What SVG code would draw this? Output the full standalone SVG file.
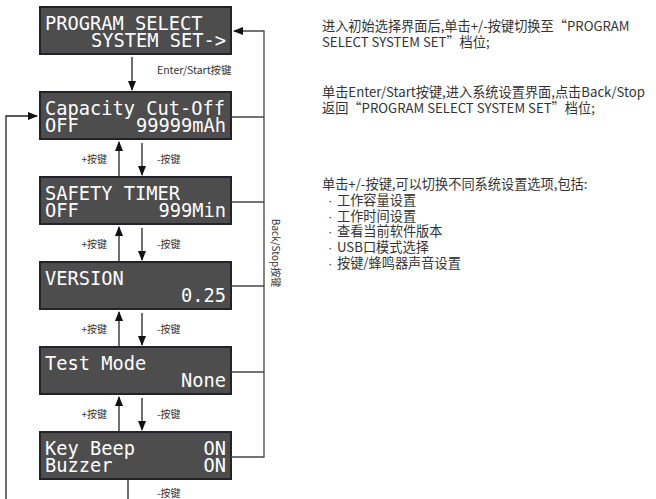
<svg xmlns="http://www.w3.org/2000/svg" width="656" height="499" viewBox="0 0 656 499">
<defs>
<style>
.box{fill:#4d4d4d;stroke:#22222a;stroke-width:2}
.lcd{fill:#ffffff;font-family:"DejaVu Sans Mono","Liberation Mono",monospace;font-size:18.7px}
.r{text-anchor:end}
.lbl{fill:#333;font-family:"Noto Sans CJK SC","Noto Sans",sans-serif;font-size:10px}
.desc{fill:#333;font-family:"Noto Sans CJK SC","Noto Sans",sans-serif;font-size:13.2px}
.dot{fill:#333;font-family:"Liberation Sans",sans-serif;font-size:13px}
.ln{fill:none;stroke:#222;stroke-width:1.3}
.gl{fill:none;stroke:#444;stroke-width:1.3}
</style>
<marker id="ah" markerWidth="10" markerHeight="8" refX="9" refY="4" orient="auto" markerUnits="userSpaceOnUse">
<path d="M0,0 L10,4 L0,8 Z" fill="#111"/>
</marker>
</defs>

<g id="n1"><rect class="box" x="40" y="7" width="191" height="47"/>
<text class="lcd" x="45" y="30">PROGRAM SELECT</text>
<text class="lcd r" x="226" y="47">SYSTEM SET-&gt;</text></g>

<g id="n2"><rect class="box" x="40" y="92" width="191" height="47"/>
<text class="lcd" x="45" y="115">Capacity Cut-Off</text>
<text class="lcd" x="45" y="132">OFF</text>
<text class="lcd r" x="226" y="132">99999mAh</text></g>

<g id="n3"><rect class="box" x="40" y="177" width="191" height="47"/>
<text class="lcd" x="45" y="200">SAFETY TIMER</text>
<text class="lcd" x="45" y="217">OFF</text>
<text class="lcd r" x="226" y="217">999Min</text></g>

<g id="n4"><rect class="box" x="40" y="262" width="191" height="47"/>
<text class="lcd" x="45" y="285">VERSION</text>
<text class="lcd r" x="226" y="302">0.25</text></g>

<g id="n5"><rect class="box" x="40" y="347" width="191" height="47"/>
<text class="lcd" x="45" y="370">Test Mode</text>
<text class="lcd r" x="226" y="387">None</text></g>

<g id="n6"><rect class="box" x="40" y="432" width="191" height="47"/>
<text class="lcd" x="45" y="455">Key Beep</text>
<text class="lcd r" x="226" y="455">ON</text>
<text class="lcd" x="45" y="472">Buzzer</text>
<text class="lcd r" x="226" y="472">ON</text></g>

<g id="connectors">
<line class="ln" x1="132" y1="57" x2="132" y2="90" marker-end="url(#ah)"/>
<line class="ln" x1="119" y1="177" x2="119" y2="142" marker-end="url(#ah)"/>
<line class="ln" x1="142" y1="143" x2="142" y2="175" marker-end="url(#ah)"/>
<line class="ln" x1="119" y1="262" x2="119" y2="227" marker-end="url(#ah)"/>
<line class="ln" x1="142" y1="228" x2="142" y2="260" marker-end="url(#ah)"/>
<line class="ln" x1="119" y1="347" x2="119" y2="312" marker-end="url(#ah)"/>
<line class="ln" x1="142" y1="313" x2="142" y2="345" marker-end="url(#ah)"/>
<line class="ln" x1="119" y1="432" x2="119" y2="397" marker-end="url(#ah)"/>
<line class="ln" x1="142" y1="398" x2="142" y2="430" marker-end="url(#ah)"/>
<line class="ln" x1="128" y1="480" x2="128" y2="499"/>
<polyline class="ln" points="6,499 6,116 37,116" marker-end="url(#ah)"/>
<polyline class="gl" points="231,457 264,457 264,31 234,31" marker-end="url(#ah)"/>
<line class="gl" x1="231" y1="117" x2="264" y2="117"/>
<line class="gl" x1="231" y1="202" x2="264" y2="202"/>
<line class="gl" x1="231" y1="286" x2="264" y2="286"/>
<line class="gl" x1="231" y1="372" x2="264" y2="372"/>
</g>

<g id="labels">
<text class="lbl" x="157" y="74" style="font-size:10.5px">Enter/Start按键</text>
<text class="lbl r" x="107" y="163">+按键</text>
<text class="lbl" x="157" y="163">-按键</text>
<text class="lbl r" x="107" y="248">+按键</text>
<text class="lbl" x="157" y="248">-按键</text>
<text class="lbl r" x="107" y="333">+按键</text>
<text class="lbl" x="157" y="333">-按键</text>
<text class="lbl r" x="107" y="418">+按键</text>
<text class="lbl" x="157" y="418">-按键</text>
<text class="lbl" x="157" y="497">-按键</text>
<text class="lbl" text-anchor="middle" transform="translate(272,253) rotate(90)">Back/Stop按键</text>
</g>

<g id="notes">
<text class="desc" x="322" y="31">进入初始选择界面后,单击+/-按键切换至“PROGRAM</text>
<text class="desc" x="322" y="47">SELECT SYSTEM SET”档位;</text>
<text class="desc" x="322" y="97">单击Enter/Start按键,进入系统设置界面,点击Back/Stop</text>
<text class="desc" x="322" y="113">返回“PROGRAM SELECT SYSTEM SET”档位;</text>
<text class="desc" x="322" y="189">单击+/-按键,可以切换不同系统设置选项,包括:</text>
<text class="dot" x="328" y="205">·</text><text class="desc" x="337" y="205">工作容量设置</text>
<text class="dot" x="328" y="221">·</text><text class="desc" x="337" y="221">工作时间设置</text>
<text class="dot" x="328" y="236">·</text><text class="desc" x="337" y="236">查看当前软件版本</text>
<text class="dot" x="328" y="252">·</text><text class="desc" x="337" y="252">USB口模式选择</text>
<text class="dot" x="328" y="268">·</text><text class="desc" x="337" y="268">按键/蜂鸣器声音设置</text>
</g>
</svg>
